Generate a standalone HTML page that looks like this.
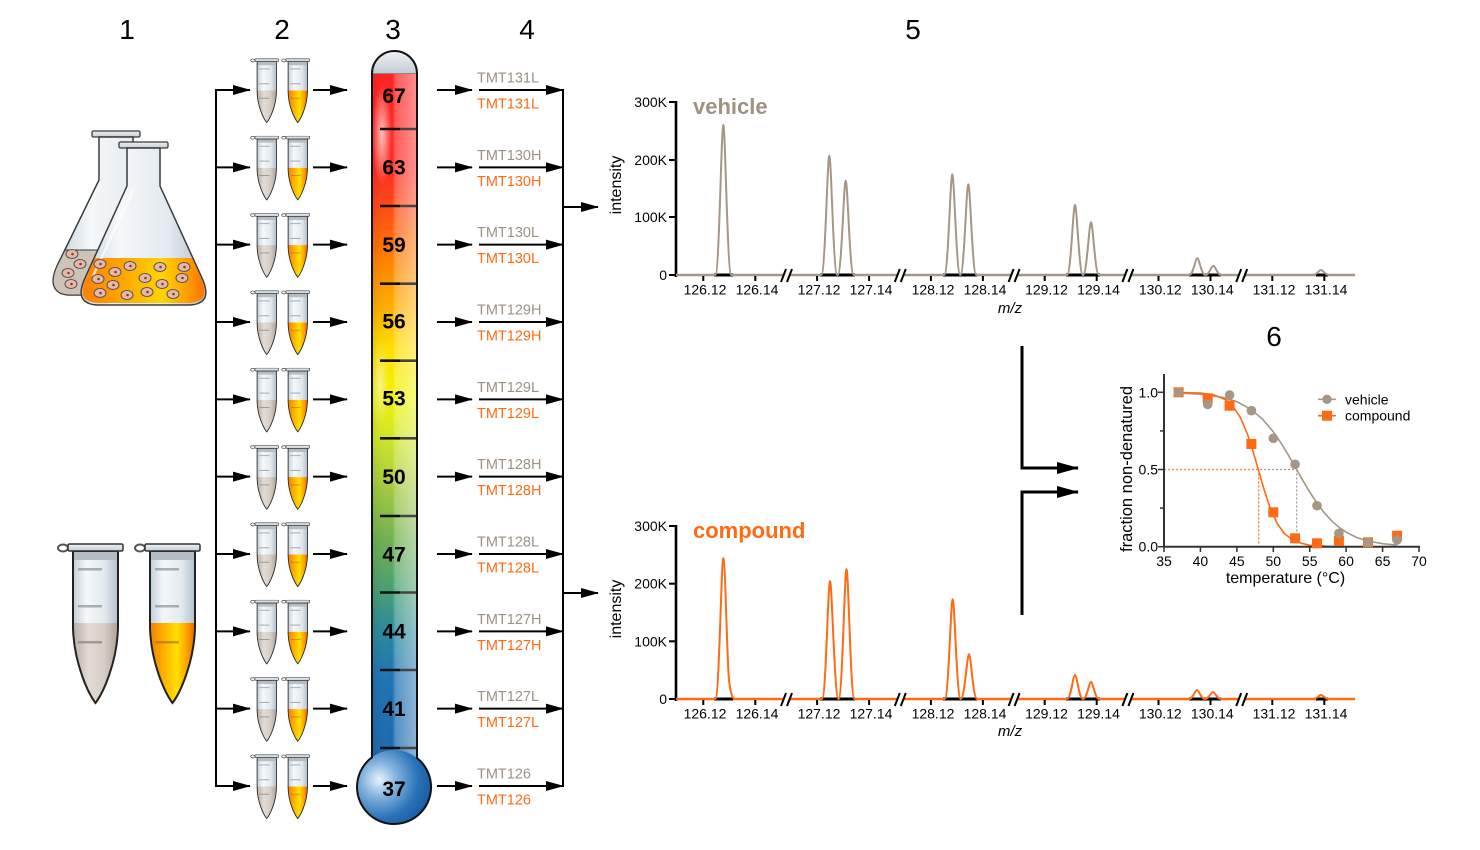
<!DOCTYPE html>
<html><head><meta charset="utf-8"><style>
html,body{margin:0;padding:0;background:#fff;}
svg{display:block;font-family:"Liberation Sans","Noto Sans CJK SC",sans-serif;}
</style></head><body>
<svg width="1480" height="850" viewBox="0 0 1480 850" xmlns="http://www.w3.org/2000/svg">
<defs>
<marker id="ah" viewBox="0 0 18 10" refX="17" refY="5" markerWidth="18" markerHeight="10" markerUnits="userSpaceOnUse" orient="auto"><path d="M0,0 L18,5 L0,10 Z" fill="#000"/></marker>
<marker id="ah2" viewBox="0 0 22 12" refX="21" refY="6" markerWidth="22" markerHeight="12" markerUnits="userSpaceOnUse" orient="auto"><path d="M0,0 L22,6 L0,12 Z" fill="#000"/></marker>
<linearGradient id="glass" x1="0" x2="1" y1="0" y2="0"><stop offset="0" stop-color="#c3ced8"/><stop offset="0.3" stop-color="#f5f8fa"/><stop offset="0.7" stop-color="#e3e9ee"/><stop offset="1" stop-color="#b3c0cc"/></linearGradient>
<linearGradient id="capg" x1="0" x2="0" y1="0" y2="1"><stop offset="0" stop-color="#eef2f5"/><stop offset="1" stop-color="#c4ccd4"/></linearGradient>
<linearGradient id="liqG" x1="0" x2="1" y1="0" y2="0"><stop offset="0" stop-color="#b8aea4"/><stop offset="0.35" stop-color="#e2dcd6"/><stop offset="0.7" stop-color="#d5cdc6"/><stop offset="1" stop-color="#aea398"/></linearGradient>
<linearGradient id="liqO" x1="0" x2="1" y1="0" y2="0"><stop offset="0" stop-color="#f08000"/><stop offset="0.3" stop-color="#ffb000"/><stop offset="0.6" stop-color="#ffe000"/><stop offset="0.85" stop-color="#ff9a00"/><stop offset="1" stop-color="#e06a00"/></linearGradient>
<linearGradient id="flaskO" x1="0" x2="1" y1="0" y2="0"><stop offset="0" stop-color="#ff8000"/><stop offset="0.35" stop-color="#ffa800"/><stop offset="0.65" stop-color="#ffd400"/><stop offset="0.88" stop-color="#ff9800"/><stop offset="1" stop-color="#ff7000"/></linearGradient>
<linearGradient id="thermV" gradientUnits="userSpaceOnUse" x1="0" y1="73" x2="0" y2="820">
<stop offset="0" stop-color="#ff2222"/>
<stop offset="0.13" stop-color="#ff2a20"/>
<stop offset="0.19" stop-color="#ff5010"/>
<stop offset="0.25" stop-color="#ff8000"/>
<stop offset="0.315" stop-color="#ffb000"/>
<stop offset="0.37" stop-color="#ffe000"/>
<stop offset="0.43" stop-color="#f2f200"/>
<stop offset="0.49" stop-color="#d0e628"/>
<stop offset="0.56" stop-color="#a0c840"/>
<stop offset="0.625" stop-color="#70b050"/>
<stop offset="0.69" stop-color="#48a070"/>
<stop offset="0.745" stop-color="#2a8a9a"/>
<stop offset="0.81" stop-color="#1e72b4"/>
<stop offset="1" stop-color="#1a62aa"/>
</linearGradient>
<linearGradient id="thermH" gradientUnits="userSpaceOnUse" x1="372" y1="0" x2="417" y2="0">
<stop offset="0" stop-color="#000" stop-opacity="0.08"/>
<stop offset="0.45" stop-color="#fff" stop-opacity="0"/>
<stop offset="0.52" stop-color="#fff" stop-opacity="0.25"/>
<stop offset="1" stop-color="#fff" stop-opacity="0.5"/>
</linearGradient>
<radialGradient id="bulbG" cx="0.3" cy="0.4" r="0.7"><stop offset="0" stop-color="#e8f2fb"/><stop offset="0.35" stop-color="#7fb0dc"/><stop offset="0.75" stop-color="#2a72b8"/><stop offset="1" stop-color="#1a5ea6"/></radialGradient>
<radialGradient id="glare" cx="0.5" cy="0.5" r="0.5"><stop offset="0" stop-color="#fff" stop-opacity="0.85"/><stop offset="1" stop-color="#fff" stop-opacity="0"/></radialGradient>
<clipPath id="thermClip"><path d="M372,73.5 A22.5,22.5 0 0 1 417,73.5 L417,758 A37,37 0 1 1 372,757.3 Z"/></clipPath>

<symbol id="tg" viewBox="0 0 70 162" preserveAspectRatio="none">
<ellipse cx="8" cy="5" rx="5" ry="3.5" fill="none" stroke="#555" stroke-width="2"/>
<path d="M18,8 L63,8 L63,85 C62,120 48,150 40.5,160 C33,150 19,120 18,85 Z" fill="url(#glass)"/>
<path d="M18.5,80 L62.5,80 L62.5,85 C61.5,120 48,150 40.5,159 C33,150 19.5,120 18.5,85 Z" fill="url(#liqG)"/>
<rect x="23" y="25" width="24" height="2.5" fill="#8a9098" opacity="0.7"/>
<rect x="23" y="62" width="24" height="2.5" fill="#8a9098" opacity="0.7"/>
<rect x="23" y="98" width="24" height="2.5" fill="#8a8078" opacity="0.7"/>
<rect x="18" y="8" width="45" height="9" fill="#b4bcc4"/>
<path d="M18,8 L63,8 L63,85 C62,120 48,150 40.5,160 C33,150 19,120 18,85 Z" fill="none" stroke="#222" stroke-width="2"/>
<rect x="13" y="1" width="55" height="7" rx="1.5" fill="url(#capg)" stroke="#333" stroke-width="1.5"/>
</symbol>
<symbol id="to" viewBox="0 0 70 162" preserveAspectRatio="none">
<ellipse cx="8" cy="5" rx="5" ry="3.5" fill="none" stroke="#555" stroke-width="2"/>
<path d="M18,8 L63,8 L63,85 C62,120 48,150 40.5,160 C33,150 19,120 18,85 Z" fill="url(#glass)"/>
<path d="M18.5,80 L62.5,80 L62.5,85 C61.5,120 48,150 40.5,159 C33,150 19.5,120 18.5,85 Z" fill="url(#liqO)"/>
<rect x="23" y="25" width="24" height="2.5" fill="#8a9098" opacity="0.7"/>
<rect x="23" y="62" width="24" height="2.5" fill="#8a9098" opacity="0.7"/>
<rect x="23" y="98" width="24" height="2.5" fill="#a07020" opacity="0.6"/>
<rect x="18" y="8" width="45" height="9" fill="#b4bcc4"/>
<path d="M18,8 L63,8 L63,85 C62,120 48,150 40.5,160 C33,150 19,120 18,85 Z" fill="none" stroke="#222" stroke-width="2"/>
<rect x="13" y="1" width="55" height="7" rx="1.5" fill="url(#capg)" stroke="#333" stroke-width="1.5"/>
</symbol>

<g id="row">
<line x1="216" y1="90" x2="250" y2="90" stroke="#000" stroke-width="2" marker-end="url(#ah)"/>
<use href="#tg" x="249.4" y="58.4" width="30" height="65"/>
<use href="#to" x="280.4" y="58.4" width="30" height="65"/>
<line x1="313" y1="90" x2="347" y2="90" stroke="#000" stroke-width="2" marker-end="url(#ah)"/>
<line x1="437" y1="90" x2="472" y2="90" stroke="#000" stroke-width="2" marker-end="url(#ah)"/>
<line x1="479" y1="90" x2="563" y2="90" stroke="#000" stroke-width="2" marker-end="url(#ah)"/>
</g>
<g id="brk"><rect x="-3" y="-3" width="6" height="6" fill="#fff"/><path d="M-5.5,7 L-0.5,-6 M0.5,7 L5.5,-6" stroke="#000" stroke-width="2" fill="none"/></g>
<g id="cell"><ellipse cx="0" cy="0" rx="6" ry="4.5" fill="#e9b7a6" stroke="#555" stroke-width="1"/><circle cx="0.5" cy="0" r="1.3" fill="#7a4040"/></g>
</defs>

<rect width="1480" height="850" fill="#fff"/>

<!-- headers -->
<g font-size="28" fill="#000" text-anchor="middle">
<text x="127" y="39">1</text>
<text x="282" y="39">2</text>
<text x="393" y="39">3</text>
<text x="527" y="39">4</text>
<text x="913" y="39">5</text>
<text x="1274" y="346">6</text>
</g>

<!-- flasks -->
<rect x="92" y="131" width="48" height="6" rx="1.5" fill="url(#capg)" stroke="#3a3a3a" stroke-width="1.3"/>
<path d="M99,137 L99,180 L57,266 Q48,286 60,293 Q64,295 70,295 L162,295 Q168,295 172,293 Q184,286 175,266 L133,180 L133,137 Z" fill="url(#glass)" stroke="#3a3a3a" stroke-width="1.5"/>
<path d="M65,250 L167,250 L175,266 Q184,286 172,293 Q168,295 162,295 L70,295 Q64,295 60,293 Q48,286 57,266 Z" fill="#cdc3b8" stroke="#3a3a3a" stroke-width="1"/>
<use href="#cell" x="72" y="254"/><use href="#cell" x="80" y="264"/><use href="#cell" x="68" y="273"/><use href="#cell" x="71" y="284"/>
<rect x="119" y="142" width="49" height="6" rx="1.5" fill="url(#capg)" stroke="#3a3a3a" stroke-width="1.3"/>
<path d="M127,148 L127,186 L85,278 Q76,298 88,303 Q92,305 98,305 L189,305 Q195,305 199,303 Q211,298 202,278 L160,186 L160,148 Z" fill="url(#glass)" stroke="#3a3a3a" stroke-width="1.5"/>
<path d="M95,258 L192,258 L201,278 Q209,297 198,301 Q194,303 189,303 L98,303 Q93,303 89,301 Q78,297 86,278 Z" fill="url(#flaskO)"/>
<path d="M133,190 L93,276" stroke="#fff" stroke-width="2.5" opacity="0.7"/>
<use href="#cell" x="100" y="264"/><use href="#cell" x="130" y="266"/><use href="#cell" x="160" y="267"/><use href="#cell" x="184" y="267"/>
<use href="#cell" x="115" y="272"/><use href="#cell" x="98" y="279"/><use href="#cell" x="145" y="278"/><use href="#cell" x="182" y="278"/>
<use href="#cell" x="113" y="285"/><use href="#cell" x="162" y="284"/><use href="#cell" x="100" y="293"/><use href="#cell" x="127" y="295"/>
<use href="#cell" x="147" y="292"/><use href="#cell" x="173" y="294"/>

<!-- big tubes -->
<use href="#tg" x="55" y="543" width="70" height="162"/>
<use href="#to" x="132" y="543" width="70" height="162"/>

<!-- brackets -->
<line x1="216" y1="89" x2="216" y2="787" stroke="#000" stroke-width="2"/>
<line x1="563" y1="89" x2="563" y2="787" stroke="#000" stroke-width="2"/>
<line x1="563" y1="207" x2="598" y2="207" stroke="#000" stroke-width="2" marker-end="url(#ah)"/>
<line x1="563" y1="593" x2="598" y2="593" stroke="#000" stroke-width="2" marker-end="url(#ah)"/>

<!-- rows -->
<use href="#row" y="0"/>
<use href="#row" y="77.33"/>
<use href="#row" y="154.67"/>
<use href="#row" y="232"/>
<use href="#row" y="309.33"/>
<use href="#row" y="386.67"/>
<use href="#row" y="464"/>
<use href="#row" y="541.33"/>
<use href="#row" y="618.67"/>
<use href="#row" y="696"/>

<!-- TMT labels -->
<g font-size="14.5" fill="#9d9184">
<text x="477" y="82.5">TMT131L</text>
<text x="477" y="159.8">TMT130H</text>
<text x="477" y="237.2">TMT130L</text>
<text x="477" y="314.5">TMT129H</text>
<text x="477" y="391.8">TMT129L</text>
<text x="477" y="469.2">TMT128H</text>
<text x="477" y="546.5">TMT128L</text>
<text x="477" y="623.8">TMT127H</text>
<text x="477" y="701.2">TMT127L</text>
<text x="477" y="778.5">TMT126</text>
</g>
<g font-size="14.5" fill="#ff6a13">
<text x="477" y="108.5">TMT131L</text>
<text x="477" y="185.8">TMT130H</text>
<text x="477" y="263.2">TMT130L</text>
<text x="477" y="340.5">TMT129H</text>
<text x="477" y="417.8">TMT129L</text>
<text x="477" y="495.2">TMT128H</text>
<text x="477" y="572.5">TMT128L</text>
<text x="477" y="649.8">TMT127H</text>
<text x="477" y="727.2">TMT127L</text>
<text x="477" y="804.5">TMT126</text>
</g>

<!-- thermometer -->
<path d="M372,73.5 A22.5,22.5 0 0 1 417,73.5 L417,758 A37,37 0 1 1 372,757.3 Z" fill="url(#thermV)"/>
<g clip-path="url(#thermClip)">
<rect x="372" y="50" width="45" height="720" fill="url(#thermH)"/>
<circle cx="394" cy="787" r="37" fill="url(#bulbG)"/>
<ellipse cx="382" cy="135" rx="10" ry="50" fill="url(#glare)" opacity="0.8"/>
<ellipse cx="380" cy="385" rx="9" ry="45" fill="url(#glare)" opacity="0.6"/>
<path d="M372,73.5 A22.5,22.5 0 0 1 417,73.5 Z" fill="url(#capg)"/>
<line x1="372" y1="73.5" x2="417" y2="73.5" stroke="#888" stroke-width="1"/>
</g>
<g stroke-width="2.6">
<g stroke="#111">
<line x1="380" y1="129" x2="400" y2="129"/><line x1="380" y1="206" x2="400" y2="206"/><line x1="380" y1="283.7" x2="400" y2="283.7"/>
<line x1="380" y1="360.7" x2="400" y2="360.7"/><line x1="380" y1="438.3" x2="400" y2="438.3"/><line x1="380" y1="516" x2="400" y2="516"/>
<line x1="380" y1="592.5" x2="400" y2="592.5"/><line x1="380" y1="670" x2="400" y2="670"/><line x1="380" y1="748" x2="400" y2="748"/>
</g>
<g stroke="#444">
<line x1="400" y1="129" x2="417" y2="129"/><line x1="400" y1="206" x2="417" y2="206"/><line x1="400" y1="283.7" x2="417" y2="283.7"/>
<line x1="400" y1="360.7" x2="417" y2="360.7"/><line x1="400" y1="438.3" x2="417" y2="438.3"/><line x1="400" y1="516" x2="417" y2="516"/>
<line x1="400" y1="592.5" x2="417" y2="592.5"/><line x1="400" y1="670" x2="417" y2="670"/><line x1="400" y1="748" x2="417" y2="748"/>
</g>
</g>
<path d="M372,73.5 A22.5,22.5 0 0 1 417,73.5 L417,758 A37,37 0 1 1 372,757.3 Z" fill="none" stroke="#111" stroke-width="2"/>
<g font-size="21" font-weight="bold" fill="#000" text-anchor="middle">
<text x="394" y="103">67</text>
<text x="394" y="174.5">63</text>
<text x="394" y="252">59</text>
<text x="394" y="328.5">56</text>
<text x="394" y="405.5">53</text>
<text x="394" y="484">50</text>
<text x="394" y="561.5">47</text>
<text x="394" y="638.5">44</text>
<text x="394" y="716">41</text>
<text x="394" y="796">37</text>
</g>

<!-- Spectrum vehicle -->
<g>
<line x1="676" y1="101" x2="676" y2="277" stroke="#000" stroke-width="2.6"/>
<g stroke="#000" stroke-width="2">
<line x1="669" y1="102" x2="676" y2="102"/><line x1="669" y1="160" x2="676" y2="160"/><line x1="669" y1="217" x2="676" y2="217"/><line x1="669" y1="275" x2="676" y2="275"/>
</g>
<g font-size="14" text-anchor="end" fill="#000">
<text x="667" y="107">300K</text><text x="667" y="165">200K</text><text x="667" y="222">100K</text><text x="667" y="280">0</text>
</g>
<text transform="translate(621,185) rotate(-90)" font-size="16" text-anchor="middle">intensity</text>
<text x="693" y="114" font-size="22" font-weight="bold" fill="#a09282">vehicle</text>
<line x1="676" y1="275" x2="1355" y2="275" stroke="#a59686" stroke-width="2.6"/>
<g stroke="#000" stroke-width="3">
<line x1="714" y1="275" x2="733" y2="275"/><line x1="820" y1="275" x2="855" y2="275"/><line x1="943" y1="275" x2="977" y2="275"/>
<line x1="1066" y1="275" x2="1100" y2="275"/><line x1="1189" y1="275" x2="1221" y2="275"/><line x1="1316" y1="275" x2="1328" y2="275"/>
</g>
<g stroke="#000" stroke-width="2">
<line x1="703.3" y1="275" x2="703.3" y2="281"/><line x1="755.3" y1="275" x2="755.3" y2="281"/>
<line x1="817.1" y1="275" x2="817.1" y2="281"/><line x1="869.1" y1="275" x2="869.1" y2="281"/>
<line x1="930.9" y1="275" x2="930.9" y2="281"/><line x1="982.9" y1="275" x2="982.9" y2="281"/>
<line x1="1044.7" y1="275" x2="1044.7" y2="281"/><line x1="1096.7" y1="275" x2="1096.7" y2="281"/>
<line x1="1158.5" y1="275" x2="1158.5" y2="281"/><line x1="1210.5" y1="275" x2="1210.5" y2="281"/>
<line x1="1272.3" y1="275" x2="1272.3" y2="281"/><line x1="1324.3" y1="275" x2="1324.3" y2="281"/>
</g>
<path d="M676,275 L715.3,275 C719.3,275 721.3,125 723.3,125 C725.3,125 727.3,275 731.3,275 L821.3,275 C825.3,275 827.3,155.7 829.3,155.7 C831.3,155.7 833.3,275 837.3,275 L837.7,275 C841.7,275 843.7,180.7 845.7,180.7 C847.7,180.7 849.7,275 853.7,275 L944.3,275 C948.3,275 950.3,174.3 952.3,174.3 C954.3,174.3 956.3,275 960.3,275 C964.3,275 966.3,184.3 968.3,184.3 C970.3,184.3 972.3,275 976.3,275 L1067,275 C1071,275 1073,205 1075,205 C1077,205 1079,275 1083,275 C1087,275 1089,222.3 1091,222.3 C1093,222.3 1095,275 1099,275 L1189.3,275 C1193.3,275 1195.3,258.3 1197.3,258.3 C1199.3,258.3 1201.3,275 1205.3,275 C1209.3,275 1211.3,265.7 1213.3,265.7 C1215.3,265.7 1217.3,275 1221.3,275 L1313,275 C1317,275 1319,270 1321,270 C1323,270 1325,275 1329,275 L1355,275" fill="none" stroke="#a59686" stroke-width="2" stroke-linejoin="round"/>
<use href="#brk" x="786.5" y="275"/><use href="#brk" x="900.3" y="275"/><use href="#brk" x="1014.1" y="275"/><use href="#brk" x="1127.9" y="275"/><use href="#brk" x="1241.7" y="275"/>
<g font-size="14" text-anchor="middle" fill="#000">
<text x="705" y="294.5">126.12</text><text x="757" y="294.5">126.14</text>
<text x="819" y="294.5">127.12</text><text x="871" y="294.5">127.14</text>
<text x="933" y="294.5">128.12</text><text x="985" y="294.5">128.14</text>
<text x="1046.5" y="294.5">129.12</text><text x="1098.5" y="294.5">129.14</text>
<text x="1160.3" y="294.5">130.12</text><text x="1212.3" y="294.5">130.14</text>
<text x="1274" y="294.5">131.12</text><text x="1326" y="294.5">131.14</text>
</g>
<text x="1010" y="313" font-size="15" font-style="italic" text-anchor="middle">m/z</text>
</g>

<!-- Spectrum compound -->
<g>
<line x1="676" y1="525" x2="676" y2="701" stroke="#000" stroke-width="2.6"/>
<g stroke="#000" stroke-width="2">
<line x1="669" y1="526" x2="676" y2="526"/><line x1="669" y1="583.7" x2="676" y2="583.7"/><line x1="669" y1="641.3" x2="676" y2="641.3"/><line x1="669" y1="699" x2="676" y2="699"/>
</g>
<g font-size="14" text-anchor="end" fill="#000">
<text x="667" y="531">300K</text><text x="667" y="588.7">200K</text><text x="667" y="646.3">100K</text><text x="667" y="704">0</text>
</g>
<text transform="translate(621,609) rotate(-90)" font-size="16" text-anchor="middle">intensity</text>
<text x="693" y="538" font-size="22" font-weight="bold" fill="#ff6a13">compound</text>
<line x1="676" y1="699" x2="1355" y2="699" stroke="#ff6a13" stroke-width="2.6"/>
<g stroke="#000" stroke-width="3">
<line x1="714" y1="699" x2="733" y2="699"/><line x1="820" y1="699" x2="855" y2="699"/><line x1="943" y1="699" x2="977" y2="699"/>
<line x1="1066" y1="699" x2="1100" y2="699"/><line x1="1189" y1="699" x2="1221" y2="699"/><line x1="1316" y1="699" x2="1328" y2="699"/>
</g>
<g stroke="#000" stroke-width="2">
<line x1="703.3" y1="699" x2="703.3" y2="705"/><line x1="755.3" y1="699" x2="755.3" y2="705"/>
<line x1="817.1" y1="699" x2="817.1" y2="705"/><line x1="869.1" y1="699" x2="869.1" y2="705"/>
<line x1="930.9" y1="699" x2="930.9" y2="705"/><line x1="982.9" y1="699" x2="982.9" y2="705"/>
<line x1="1044.7" y1="699" x2="1044.7" y2="705"/><line x1="1096.7" y1="699" x2="1096.7" y2="705"/>
<line x1="1158.5" y1="699" x2="1158.5" y2="705"/><line x1="1210.5" y1="699" x2="1210.5" y2="705"/>
<line x1="1272.3" y1="699" x2="1272.3" y2="705"/><line x1="1324.3" y1="699" x2="1324.3" y2="705"/>
</g>
<path d="M676,699 L715.3,699 C719.3,699 721.3,558.3 723.3,558.3 C725.3,558.3 727,660 729,680 C730.5,692 732,699 735,699 L822,699 C826,699 828,581 830,581 C832,581 834.5,699 838.5,699 C842.5,699 844.5,569.3 846.5,569.3 C848.5,569.3 850.5,699 854.5,699 L944.7,699 C948.7,699 950.7,599.3 952.7,599.3 C954.7,599.3 956.7,699 960.7,699 C964.7,699 967,654.3 969,654.3 C971,654.3 973,699 977,699 L1067,699 C1071,699 1073,675 1075,675 C1077,675 1079,699 1083,699 C1087,699 1089,682 1091,682 C1093,682 1095,699 1099,699 L1189,699 C1193,699 1195,690 1197,690 C1199,690 1201,699 1205,699 C1209,699 1211,692 1213,692 C1215,692 1217,699 1221,699 L1313,699 C1317,699 1319,695 1321,695 C1323,695 1325,699 1329,699 L1355,699" fill="none" stroke="#ff6a13" stroke-width="2" stroke-linejoin="round"/>
<use href="#brk" x="786.5" y="699"/><use href="#brk" x="900.3" y="699"/><use href="#brk" x="1014.1" y="699"/><use href="#brk" x="1127.9" y="699"/><use href="#brk" x="1241.7" y="699"/>
<g font-size="14" text-anchor="middle" fill="#000">
<text x="705" y="718.5">126.12</text><text x="757" y="718.5">126.14</text>
<text x="819" y="718.5">127.12</text><text x="871" y="718.5">127.14</text>
<text x="933" y="718.5">128.12</text><text x="985" y="718.5">128.14</text>
<text x="1046.5" y="718.5">129.12</text><text x="1098.5" y="718.5">129.14</text>
<text x="1160.3" y="718.5">130.12</text><text x="1212.3" y="718.5">130.14</text>
<text x="1274" y="718.5">131.12</text><text x="1326" y="718.5">131.14</text>
</g>
<text x="1010" y="736" font-size="15" font-style="italic" text-anchor="middle">m/z</text>
</g>

<!-- connector arrows to panel 6 -->
<path d="M1022,346 L1022,468 L1078,468" fill="none" stroke="#000" stroke-width="3" marker-end="url(#ah2)"/>
<path d="M1022,615 L1022,492 L1078,492" fill="none" stroke="#000" stroke-width="3" marker-end="url(#ah2)"/>

<!-- melting curve panel -->
<g>
<g stroke-dasharray="2,2" stroke-width="1.2" fill="none">
<line x1="1164" y1="469.5" x2="1296.7" y2="469.5" stroke="#9a9a9a"/>
<line x1="1296.7" y1="469.5" x2="1296.7" y2="546.7" stroke="#9a9a9a"/>
<line x1="1164" y1="469.5" x2="1258.7" y2="469.5" stroke="#ff8a40"/>
<line x1="1258.7" y1="469.5" x2="1258.7" y2="546.7" stroke="#ff6a13"/>
</g>
<polyline points="1178.6,393.0 1200.4,394.2 1222.3,397.3 1236.9,401.7 1251.4,409.7 1262.4,419.0 1273.3,431.8 1280.6,442.4 1287.9,454.3 1295.1,466.9 1302.4,479.7 1309.7,492.0 1317.0,503.1 1324.3,512.8 1331.6,520.8 1338.9,527.2 1346.1,532.2 1357.1,537.6 1368.0,541.0 1382.6,543.7 1397.1,545.2" fill="none" stroke="#a59686" stroke-width="1.6" stroke-linejoin="round"/>
<polyline points="1178.6,392.4 1200.4,393.1 1215.0,395.2 1225.9,399.9 1233.2,406.5 1240.5,417.7 1247.8,435.0 1252.9,450.8 1258.7,471.0 1263.8,488.7 1269.6,506.4 1276.9,523.0 1284.2,533.5 1295.1,541.6 1309.7,545.3 1331.6,546.5 1397.1,546.7" fill="none" stroke="#ff6a13" stroke-width="1.6" stroke-linejoin="round"/>
<line x1="1164" y1="374" x2="1164" y2="547.7" stroke="#333" stroke-width="2"/>
<line x1="1163" y1="546.7" x2="1420" y2="546.7" stroke="#333" stroke-width="2"/>
<g stroke="#333" stroke-width="1.5">
<line x1="1158" y1="392.3" x2="1164" y2="392.3"/><line x1="1160" y1="430.9" x2="1164" y2="430.9"/><line x1="1158" y1="469.5" x2="1164" y2="469.5"/><line x1="1160" y1="508.1" x2="1164" y2="508.1"/><line x1="1158" y1="546.7" x2="1164" y2="546.7"/>
<line x1="1164" y1="546.7" x2="1164" y2="552"/><line x1="1200.4" y1="546.7" x2="1200.4" y2="552"/><line x1="1236.9" y1="546.7" x2="1236.9" y2="552"/><line x1="1273.3" y1="546.7" x2="1273.3" y2="552"/>
<line x1="1309.7" y1="546.7" x2="1309.7" y2="552"/><line x1="1346.1" y1="546.7" x2="1346.1" y2="552"/><line x1="1382.6" y1="546.7" x2="1382.6" y2="552"/><line x1="1419" y1="546.7" x2="1419" y2="552"/>
</g>
<g fill="#ff6a13">
<rect x="1173.6" y="387.3" width="10" height="10"/><rect x="1202.7" y="393.3" width="10" height="10"/><rect x="1224.6" y="400.7" width="10" height="10"/>
<rect x="1246.4" y="439" width="10" height="10"/><rect x="1268.3" y="507.3" width="10" height="10"/><rect x="1290.1" y="533.3" width="10" height="10"/>
<rect x="1312" y="538.3" width="10" height="10"/><rect x="1333.9" y="535.7" width="10" height="10"/><rect x="1363" y="537.3" width="10" height="10"/>
<rect x="1392.1" y="530.7" width="10" height="10"/>
</g>
<g fill="#a59686">
<circle cx="1178.6" cy="392.3" r="4.8"/><circle cx="1207.7" cy="404.3" r="4.8"/><circle cx="1229.6" cy="395" r="4.8"/>
<circle cx="1251.4" cy="410.7" r="4.8"/><circle cx="1273.3" cy="438.3" r="4.8"/><circle cx="1295.1" cy="464.3" r="4.8"/>
<circle cx="1317" cy="505.7" r="4.8"/><circle cx="1338.9" cy="533.3" r="4.8"/><circle cx="1368" cy="542.3" r="4.8"/>
<circle cx="1397.1" cy="540" r="4.8"/>
</g>
<g font-size="14" fill="#000">
<g text-anchor="end"><text x="1158" y="397.3">1.0</text><text x="1158" y="474.5">0.5</text><text x="1158" y="551.7">0.0</text></g>
<g text-anchor="middle">
<text x="1164" y="566">35</text><text x="1200.4" y="566">40</text><text x="1236.9" y="566">45</text><text x="1273.3" y="566">50</text>
<text x="1309.7" y="566">55</text><text x="1346.1" y="566">60</text><text x="1382.6" y="566">65</text><text x="1419" y="566">70</text>
</g>
</g>
<text x="1285.5" y="583" font-size="16" text-anchor="middle">temperature (°C)</text>
<text transform="translate(1132,469) rotate(-90)" font-size="16.5" text-anchor="middle">fraction non-denatured</text>
<line x1="1318" y1="399.3" x2="1336" y2="399.3" stroke="#a59686" stroke-width="1.6"/>
<circle cx="1327" cy="399.3" r="4.7" fill="#a59686"/>
<text x="1345" y="404.3" font-size="14">vehicle</text>
<line x1="1318" y1="415.7" x2="1336" y2="415.7" stroke="#ff6a13" stroke-width="1.6"/>
<rect x="1322" y="410.7" width="10" height="10" fill="#ff6a13"/>
<text x="1345" y="420.7" font-size="14">compound</text>
</g>
</svg>
</body></html>
